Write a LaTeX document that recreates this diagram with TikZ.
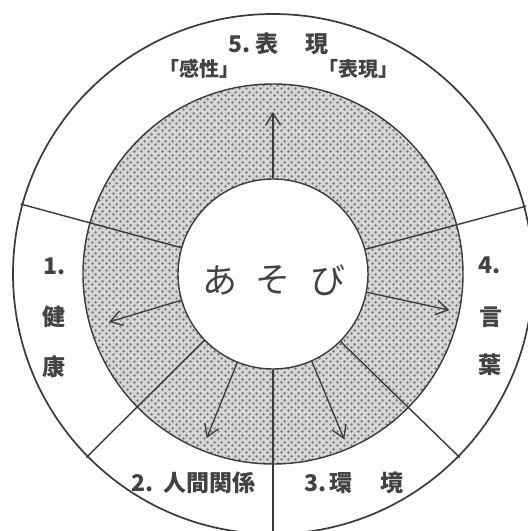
\documentclass[tikz,border=0pt]{standalone}
\usepackage{fontspec}
\newfontfamily\jp{Noto Sans CJK JP}
\usetikzlibrary{calc,arrows.meta,patterns.meta}
\definecolor{linec}{HTML}{3A3A3A}
\definecolor{textc}{HTML}{424242}
\definecolor{ringbg}{HTML}{D6D6D6}
\definecolor{dotc}{HTML}{7C7C7C}
\tikzdeclarepattern{
  name=ringdots,
  type=uncolored,
  bottom left={(0pt,0pt)},
  top right={(7pt,7pt)},
  tile size={(7pt,7pt)},
  code={
    \fill (1.75pt,1.75pt) circle (1.55pt);
    \fill (5.25pt,5.25pt) circle (1.55pt);
  }
}
\tikzset{
  lbl/.style={text=textc, inner sep=0pt, font=\jp\bfseries\fontsize{23}{23}\selectfont},
  brk/.style={text=textc, inner sep=0pt, font=\jp\bfseries\fontsize{20}{20}\selectfont},
  play/.style={text=textc, inner sep=0pt, font=\jp\fontsize{35}{35}\selectfont},
  divider/.style={draw=linec, line width=1.4pt},
  outarrow/.style={draw=linec, line width=1.3pt, -{Straight Barb[length=12pt,width=15pt,line width=1.3pt]}}
}
\begin{document}
\begin{tikzpicture}[x=1pt,y=1pt]
\useasboundingbox (0,0) rectangle (528,531);
\clip (0,0) rectangle (528,531);
\fill[white] (0,0) rectangle (528,531);
\coordinate (C) at (273,257);
% outer circle
\draw[linec, line width=1.7pt] (C) circle (260pt);
% shaded ring
\fill[ringbg] (C) circle (190pt);
\fill[pattern=ringdots, pattern color=dotc] (C) circle (190pt);
\draw[linec, line width=1.4pt] (C) circle (190pt);
% core
\node[circle, draw=linec, line width=1.4pt, fill=white, minimum size=190pt, inner sep=0pt] (core) at (C) {};
% divider end points on the outer circle
\coordinate (o1) at ($(C)+(164.5:262pt)$);
\coordinate (o2) at ($(C)+(15:262pt)$);
\coordinate (o3) at ($(C)+(224.5:262pt)$);
\coordinate (o4) at ($(C)+(315.5:262pt)$);
\coordinate (o5) at ($(C)+(270:280pt)$);
\draw[divider] (core.164.5) -- (o1);
\draw[divider] (core.15) -- (o2);
\draw[divider] (core.224.5) -- (o3);
\draw[divider] (core.315.5) -- (o4);
\draw[divider] (core.270) -- (o5);
% arrows
\coordinate (e5) at ($(C)+(90:162pt)$);
\coordinate (e1) at ($(C)+(196.3:171pt)$);
\coordinate (e4) at ($(C)+(-11.6:180pt)$);
\coordinate (e2) at ($(C)+(-112:177pt)$);
\coordinate (e3) at ($(C)+(-66.7:180pt)$);
\draw[outarrow] (core.90) -- (e5);
\draw[outarrow] (core.196.3) -- (e1);
\draw[outarrow] (core.-11.6) -- (e4);
\draw[outarrow] (core.-112) -- (e2);
\draw[outarrow] (core.-66.7) -- (e3);
% centre text
\node[play] (pa) at (220,251) {あ};
\node[play] (pb) at (273,251) {そ};
\node[play] (pc) at (328,251) {び};
% top labels
\node[lbl] (t5n) at (240,487) {5.};
\node[lbl] (t5a) at (267,487) {表};
\node[lbl] (t5b) at (317,487) {現};
\node[brk] (tk) at (199,462) {「感性」};
\node[brk] (th) at (358,462) {「表現」};
% left labels
\node[lbl] (t1n) at (55,265) {1.};
\node[lbl] (t1a) at (54,214) {健};
\node[lbl] (t1b) at (54,164) {康};
% right labels
\node[lbl] (t4n) at (490,266) {4.};
\node[lbl] (t4a) at (491,214) {言};
\node[lbl] (t4b) at (490,166) {葉};
% bottom labels
\node[lbl] (t2n) at (143,48) {2.};
\node[lbl] (t2) at (209,48) {人間関係};
\node[lbl] (t3n) at (316,48) {3.};
\node[lbl] (t3a) at (341,48) {環};
\node[lbl] (t3b) at (392,48) {境};
\end{tikzpicture}
\end{document}
